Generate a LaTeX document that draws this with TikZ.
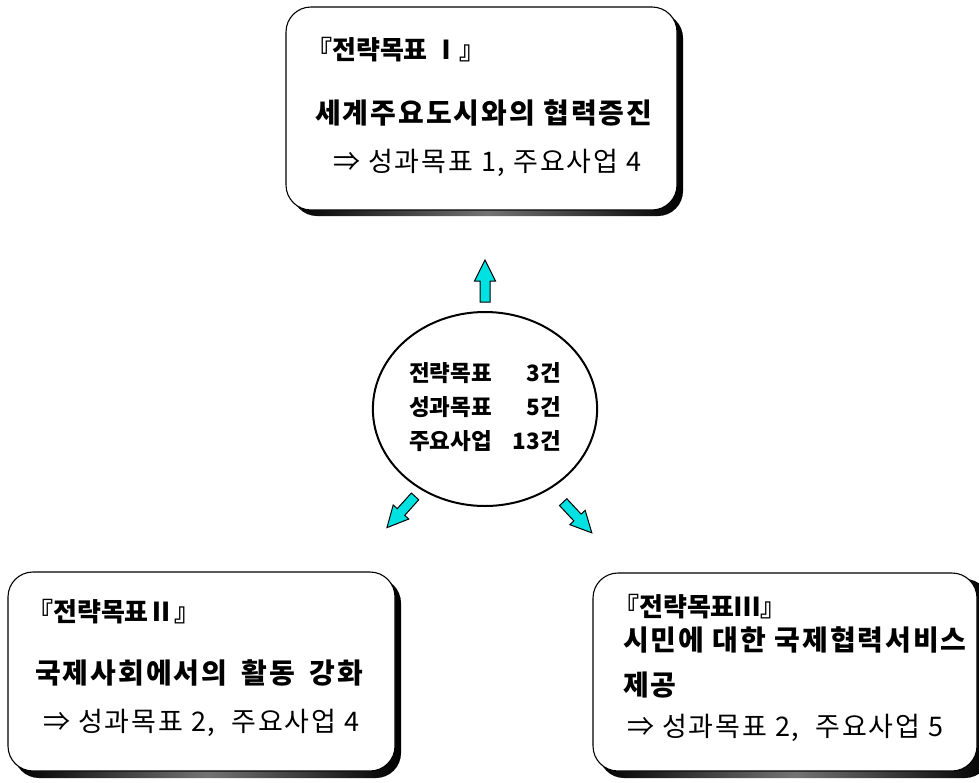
\documentclass[tikz,border=0pt]{standalone}
\usepackage{fontspec}
\setmainfont{Noto Sans CJK KR}
\usetikzlibrary{shapes.geometric}
\definecolor{arrowcyan}{RGB}{0,226,226}

\tikzset{
  goalbox/.style={draw=black, line width=1.1pt, fill=white, rounded corners=25pt},
  goalshadow/.style={rounded corners=25pt, left color=black, right color=black, middle color=black!55},
  goaltitle/.style={anchor=west, inner sep=0pt, font=\fontsize{26}{26}\selectfont\bfseries},
  goalname/.style={anchor=west, inner sep=0pt,
                   font=\fontsize{28}{28}\selectfont\bfseries\addfontfeatures{LetterSpace=7}},
  goalinfo/.style={anchor=west, inner sep=0pt,
                   font=\fontsize{27}{27}\selectfont\addfontfeatures{LetterSpace=7}},
  blockarrow/.style={draw=black, line width=1pt, fill=arrowcyan, line join=miter},
}

\begin{document}
\begin{tikzpicture}[x=1pt, y=-1pt]
    \useasboundingbox (0,0) rectangle (979,782);
    % Centro
    \node[draw, ellipse, line width=2pt, minimum width=208pt, minimum height=194pt,
          font=\fontsize{22.5}{34}\selectfont\bfseries] (hub) at (485,409)
        {\begin{tabular}{@{}l@{\hspace{21pt}}r@{}}
            전략목표 & 3건\\
            성과목표 & 5건\\
            주요사업 & 13건
         \end{tabular}};
    % Flechas
    \foreach \cx/\cy/\ang in {485/281/90, 401/512/228, 577.5/517.5/313}
        \draw[blockarrow, shift={(\cx,\cy)}, rotate=\ang]
            (-21,5) -- (0,5) -- (0,10.5) -- (21,0) -- (0,-10.5) -- (0,-5) -- (-21,-5) -- cycle;
    % Objetivo I
    \shade[goalshadow] (292,13) rectangle (683,216);
    \draw[goalbox] (286,7) rectangle (677,210);
    \node[goaltitle] (titleI) at (306,50) {『전략목표 Ⅰ』};
    \node[goalname] (nameI) at (315,113) {세계주요도시와의 협력증진};
    \node[goalinfo] (infoI) at (333,163) {⇒ 성과목표 1, 주요사업 4};
    % Objetivo II
    \shade[goalshadow] (14,578) rectangle (401,778);
    \draw[goalbox] (8,572) rectangle (395,771);
    \node[goaltitle] (titleII) at (27,612) {『전략목표Ⅱ』};
    \node[goalname] (nameII) at (35,673) {국제사회에서의\hspace{6pt} 활동\hspace{6pt} 강화};
    \node[goalinfo] (infoII) at (43,723) {⇒ 성과목표 2, \ 주요사업 4};
    % Objetivo III
    \shade[goalshadow] (599,579) rectangle (990,778);
    \draw[goalbox] (593,573) rectangle (977,771);
    \node[goaltitle] (titleIII) at (613,607) {『전략목표Ⅲ』};
    \node[goalname] (nameIII) at (623,640) {시민에 대한 국제협력서비스};
    \node[goalname] (nameIIIb) at (623,685) {제공};
    \node[goalinfo] (infoIII) at (627,728) {⇒ 성과목표 2, \ 주요사업 5};
\end{tikzpicture}
\end{document}
